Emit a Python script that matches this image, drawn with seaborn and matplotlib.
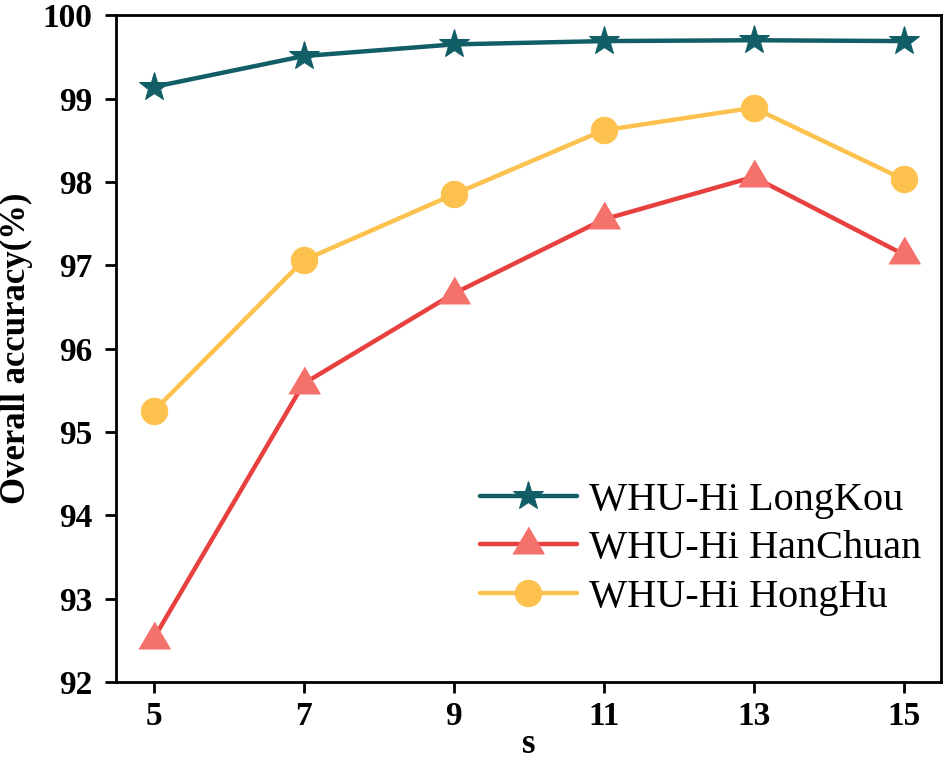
import matplotlib
matplotlib.use("Agg")
import matplotlib.pyplot as plt
import seaborn as sns
import pandas as pd

s_values = [5, 7, 9, 11, 13, 15]
longkou = [99.14, 99.51, 99.65, 99.69, 99.70, 99.69]
hanchuan = [92.52, 95.58, 96.66, 97.55, 98.06, 97.13]
honghu = [95.25, 97.06, 97.85, 98.62, 98.89, 98.03]
y_ticks = [92, 93, 94, 95, 96, 97, 98, 99, 100]

sns.set_style("ticks")
plt.rcParams['font.family'] = ['Liberation Serif', 'DejaVu Serif']
plt.rcParams.update({"text.color": "black", "axes.labelcolor": "black",
                     "xtick.color": "black", "ytick.color": "black",
                     "axes.edgecolor": "black"})

fig, ax = plt.subplots(figsize=(9.44, 7.62), dpi=100)
fig.subplots_adjust(left=0.123, right=0.997, top=0.980, bottom=0.105)

# flatter triangle than the default "^"
tri = [(-1, -0.6), (1, -0.6), (0, 1.1)]

series = [
    ("WHU-Hi LongKou", longkou, "#115E67", "#115E67", "*", 22),
    ("WHU-Hi HanChuan", hanchuan, "#E8403F", "#F4716C", tri, 25),
    ("WHU-Hi HongHu", honghu, "#FDC24D", "#FDC24D", "o", 19),
]
for name, vals, line_col, mk_col, mk, ms in series:
    df = pd.DataFrame({"s": s_values, "acc": vals})
    sns.lineplot(data=df, x="s", y="acc", ax=ax, color=line_col, linewidth=3.2,
                 marker=mk, markersize=ms, markerfacecolor=mk_col,
                 markeredgecolor=mk_col, label=name)

ax.set_xlim(4.5, 15.5)
ax.set_ylim(92, 100)
ax.set_xticks(s_values)
ax.set_yticks(y_ticks)
ax.tick_params(axis="both", labelsize=24, width=2, length=8, direction="out",
               colors="black")
ax.tick_params(axis="y", pad=9)
ax.tick_params(axis="x", pad=6)
for lab in ax.get_xticklabels() + ax.get_yticklabels():
    lab.set_fontweight("bold")
for sp in ax.spines.values():
    sp.set_linewidth(2)
    sp.set_color("black")

ax.set_xlabel("s", fontsize=25, fontweight="bold", labelpad=-3, color="black")
ax.set_ylabel("Overall accuracy(%)", fontsize=25, fontweight="bold", labelpad=7,
              color="black")

leg = ax.legend(loc="lower right", bbox_to_anchor=(0.995, 0.075), frameon=False,
                fontsize=29, handlelength=2.4, labelspacing=0.28,
                handletextpad=0.3, borderaxespad=0)
for t in leg.get_texts():
    t.set_color("black")

fig.savefig("out.png", dpi=100)
